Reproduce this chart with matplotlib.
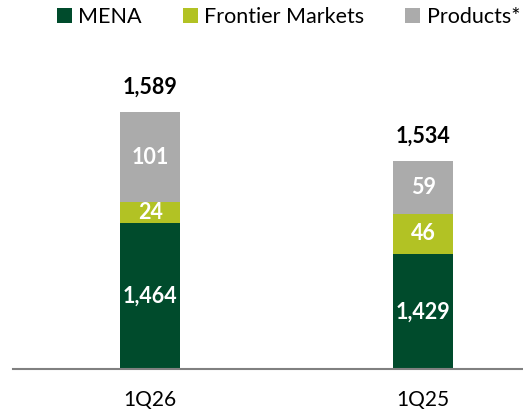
import numpy as np
import matplotlib.pyplot as plt

plt.rcParams['font.family'] = ['Lato', 'DejaVu Sans']

quarters = ['1Q26', '1Q25']
mena = [1464, 1429]
frontier = [24, 46]
products = [101, 59]
totals = [1589, 1534]

colors = {'MENA': '#004B2C', 'Frontier Markets': '#B2C224', 'Products*': '#ABABAB'}

fig = plt.figure(figsize=(5.23, 4.11), dpi=100)
ax = fig.add_axes([0.0249, 0.1022, 0.9751, 0.752])

base = 1300
x = np.arange(len(quarters))
w = 0.22
bottoms = np.array(mena, dtype=float)
b1 = ax.bar(x, np.array(mena) - base, w, bottom=base, color=colors['MENA'], label='MENA')
b2 = ax.bar(x, frontier, w, bottom=bottoms, color=colors['Frontier Markets'], label='Frontier Markets')
b3 = ax.bar(x, products, w, bottom=bottoms + frontier, color=colors['Products*'], label='Products*')

for i in range(len(x)):
    ax.text(x[i], (base + mena[i]) / 2, f'{mena[i]:,}', ha='center', va='center',
            color='white', fontsize=15.5, fontweight='bold')
    ax.text(x[i], mena[i] + frontier[i] / 2, f'{frontier[i]}', ha='center', va='center',
            color='white', fontsize=15.5, fontweight='bold')
    ax.text(x[i], mena[i] + frontier[i] + products[i] / 2, f'{products[i]}', ha='center',
            va='center', color='white', fontsize=15.5, fontweight='bold')
    ax.text(x[i], totals[i] + 16, f'{totals[i]:,}', ha='center', va='bottom',
            color='black', fontsize=15.5, fontweight='bold')

ax.set_xlim(-0.502, 1.366)
ax.set_ylim(base, 1648)
ax.set_xticks(x)
ax.set_xticklabels(quarters, fontsize=15)
ax.tick_params(axis='x', length=0, pad=15)
ax.set_yticks([])
for s in ['top', 'right', 'left']:
    ax.spines[s].set_visible(False)
ax.spines['bottom'].set_color('#808080')
ax.spines['bottom'].set_linewidth(1.5)

fig.legend(handles=[b1, b2, b3], loc='upper center', bbox_to_anchor=(0.552, 1.03), ncol=3,
           frameon=False, fontsize=15.5, handlelength=0.7, handleheight=0.7,
           handletextpad=0.3, columnspacing=1.9)

plt.savefig('out.png', dpi=100)
